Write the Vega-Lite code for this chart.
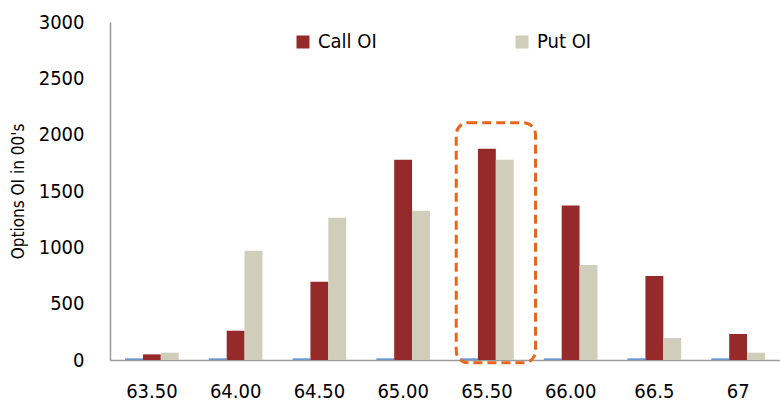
{
  "$schema": "https://vega.github.io/schema/vega-lite/v6.json",
  "width": 670,
  "height": 338,
  "autosize": "none",
  "padding": {"left": 110, "top": 22, "right": 0, "bottom": 44},
  "background": "white",
  "config": {
    "view": {"stroke": null},
    "font": "'DejaVu Sans Condensed', Roboto, sans-serif"
  },
  "datasets": {
    "oi": [
      {"strike": "63.50", "series": "Base", "value": 15},
      {"strike": "63.50", "series": "Call OI", "value": 50},
      {"strike": "63.50", "series": "Put OI", "value": 65},
      {"strike": "64.00", "series": "Base", "value": 15},
      {"strike": "64.00", "series": "Call OI", "value": 260},
      {"strike": "64.00", "series": "Put OI", "value": 970},
      {"strike": "64.50", "series": "Base", "value": 15},
      {"strike": "64.50", "series": "Call OI", "value": 695},
      {"strike": "64.50", "series": "Put OI", "value": 1263},
      {"strike": "65.00", "series": "Base", "value": 15},
      {"strike": "65.00", "series": "Call OI", "value": 1778},
      {"strike": "65.00", "series": "Put OI", "value": 1325},
      {"strike": "65.50", "series": "Base", "value": 15},
      {"strike": "65.50", "series": "Call OI", "value": 1875},
      {"strike": "65.50", "series": "Put OI", "value": 1778},
      {"strike": "66.00", "series": "Base", "value": 15},
      {"strike": "66.00", "series": "Call OI", "value": 1372},
      {"strike": "66.00", "series": "Put OI", "value": 843},
      {"strike": "66.5", "series": "Base", "value": 15},
      {"strike": "66.5", "series": "Call OI", "value": 745},
      {"strike": "66.5", "series": "Put OI", "value": 195},
      {"strike": "67", "series": "Base", "value": 15},
      {"strike": "67", "series": "Call OI", "value": 231},
      {"strike": "67", "series": "Put OI", "value": 65}
    ],
    "highlight": [
      {"strike": "65.50", "top": 2106, "bottom": -25}
    ]
  },
  "layer": [
    {
      "data": {"name": "oi"},
      "mark": {"type": "bar"},
      "encoding": {
        "x": {
          "field": "strike",
          "type": "nominal",
          "sort": ["63.50", "64.00", "64.50", "65.00", "65.50", "66.00", "66.5", "67"],
          "scale": {"paddingInner": 0.36, "paddingOuter": 0.18},
          "axis": {
            "title": null,
            "labelAngle": 0,
            "labelFontSize": 20,
            "labelColor": "#000000",
            "labelPadding": 21,
            "ticks": false,
            "domainColor": "#9a9a9a",
            "domainWidth": 1.5
          }
        },
        "xOffset": {
          "field": "series",
          "type": "nominal",
          "sort": ["Base", "Call OI", "Put OI"],
          "scale": {"paddingInner": 0, "paddingOuter": 0}
        },
        "y": {
          "field": "value",
          "type": "quantitative",
          "scale": {"domain": [0, 3000], "nice": false},
          "axis": {
            "title": "Options OI in 00's",
            "titleFontSize": 17,
            "titleFontWeight": "normal",
            "titleColor": "#000000",
            "titlePadding": 11,
            "values": [0, 500, 1000, 1500, 2000, 2500, 3000],
            "format": "d",
            "labelFontSize": 20,
            "labelColor": "#000000",
            "labelPadding": 26,
            "ticks": false,
            "grid": false,
            "domainColor": "#9a9a9a",
            "domainWidth": 1.5
          }
        },
        "color": {
          "field": "series",
          "type": "nominal",
          "scale": {
            "domain": ["Base", "Call OI", "Put OI"],
            "range": ["#6b98d0", "#962a2a", "#d0cdba"]
          },
          "legend": {
            "title": null,
            "values": ["Call OI", "Put OI"],
            "orient": "none",
            "legendX": 183,
            "legendY": 10,
            "direction": "horizontal",
            "columns": 2,
            "columnPadding": 135,
            "padding": 0,
            "symbolType": "square",
            "symbolSize": 169,
            "symbolStrokeWidth": 0,
            "labelFontSize": 20,
            "labelColor": "#000000",
            "labelOffset": 5
          }
        }
      }
    },
    {
      "data": {"name": "highlight"},
      "mark": {
        "type": "rect",
        "fill": null,
        "stroke": "#e8661c",
        "strokeWidth": 3,
        "strokeDash": [9, 5],
        "cornerRadius": 12,
        "width": {"band": 1.48},
        "xOffset": 9
      },
      "encoding": {
        "x": {"field": "strike", "type": "nominal"},
        "y": {"field": "top", "type": "quantitative"},
        "y2": {"field": "bottom"}
      }
    }
  ]
}
